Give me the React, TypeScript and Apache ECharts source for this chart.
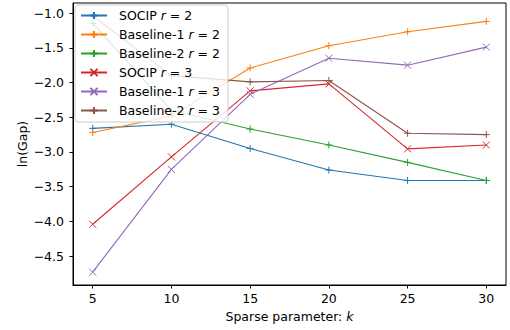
import React, { useEffect, useRef } from "react";
import * as echarts from "echarts";

const kValues = [5, 10, 15, 20, 25, 30];
const xTicks = [5, 10, 15, 20, 25, 30];
const yTicks = [-4.5, -4.0, -3.5, -3.0, -2.5, -2.0, -1.5, -1.0];

const socipR2 = [-2.66, -2.6, -2.95, -3.26, -3.41, -3.41];
const baseline1R2 = [-2.72, -2.48, -1.79, -1.47, -1.27, -1.12];
const baseline2R2 = [-1.15, -2.4, -2.67, -2.9, -3.15, -3.41];
const socipR3 = [-4.04, -3.07, -2.12, -2.02, -2.955, -2.9];
const baseline1R3 = [-4.73, -3.25, -2.17, -1.65, -1.75, -1.49];
const baseline2R3 = [-1.04, -1.9, -1.99, -1.97, -2.73, -2.75];

const seriesNames = [
  "SOCIP r = 2",
  "Baseline-1 r = 2",
  "Baseline-2 r = 2",
  "SOCIP r = 3",
  "Baseline-1 r = 3",
  "Baseline-2 r = 3",
];
const seriesValues = [socipR2, baseline1R2, baseline2R2, socipR3, baseline1R3, baseline2R3];
const colors = ["#1f77b4", "#ff7f0e", "#2ca02c", "#d62728", "#9467bd", "#8c564b"];
const markers = ["plus", "plus", "plus", "x", "x", "plus"];

const PLUS = "path://M5,0L5,10M0,5L10,5";
const CROSS = "path://M0,0L10,10M0,10L10,0";
const FONT = "DejaVu Sans";

export default function App() {
  const ref = useRef<HTMLDivElement>(null);
  useEffect(() => {
    if (!ref.current) return;
    const chart = echarts.init(ref.current, undefined, { renderer: "svg" });
    const fmtY = (v: number) => (v < 0 ? "\u2212" : "") + Math.abs(v).toFixed(1);
    const series = seriesNames.map((name, i) => ({
      name,
      type: "line",
      data: kValues.map((k, j) => [k, seriesValues[i][j]]),
      symbol: markers[i] === "plus" ? PLUS : CROSS,
      symbolSize: 7,
      showSymbol: true,
      lineStyle: { color: colors[i], width: 1.1 },
      itemStyle: { color: colors[i], borderColor: colors[i], borderWidth: 1 },
      emphasis: { disabled: true },
    }));
    chart.setOption({
      animation: false,
      textStyle: { fontFamily: FONT },
      grid: {
        left: 73,
        right: 4,
        top: 3,
        bottom: 45,
        show: true,
        borderColor: "#000",
        borderWidth: 1,
        backgroundColor: "transparent",
      },
      legend: {
        orient: "vertical",
        left: 75,
        top: 5,
        padding: [4, 8, 5, 5],
        itemWidth: 26,
        itemHeight: 9,
        itemGap: 6,
        backgroundColor: "rgba(255,255,255,0.8)",
        borderColor: "#cccccc",
        borderWidth: 1,
        borderRadius: 3,
        data: seriesNames,
        formatter: (name: string) => name.replace(" r = ", " {i|r} = "),
        textStyle: {
          fontFamily: FONT,
          fontSize: 12.5,
          color: "#000",
          padding: [0, 0, 0, 7],
          lineHeight: 13,
          rich: {
            i: { fontFamily: FONT, fontStyle: "italic", fontSize: 12.5, color: "#000" },
          },
        },
      },
      xAxis: {
        type: "value",
        min: 3.75,
        max: 31.25,
        name: "Sparse parameter: {i|k}",
        nameLocation: "middle",
        nameGap: 23,
        nameTextStyle: {
          fontFamily: FONT,
          fontSize: 12.5,
          color: "#000",
          rich: { i: { fontFamily: FONT, fontStyle: "italic", fontSize: 12.5, color: "#000" } },
        },
        axisLine: { show: true, onZero: false, lineStyle: { color: "#000", width: 1 } },
        axisTick: { show: true, length: 3.5, customValues: xTicks, lineStyle: { color: "#000" } },
        axisLabel: {
          customValues: xTicks,
          margin: 7,
          fontFamily: FONT,
          fontSize: 12.5,
          color: "#000",
        },
        splitLine: { show: false },
      },
      yAxis: {
        type: "value",
        min: -4.915,
        max: -0.855,
        name: "ln(Gap)",
        nameLocation: "middle",
        nameRotate: 90,
        nameGap: 44,
        nameMoveOverlap: false,
        nameTextStyle: { fontFamily: FONT, fontSize: 12.5, color: "#000" },
        axisLine: { show: true, onZero: false, lineStyle: { color: "#000", width: 1 } },
        axisTick: { show: true, length: 3.5, customValues: yTicks, lineStyle: { color: "#000" } },
        axisLabel: {
          customValues: yTicks,
          margin: 9,
          fontFamily: FONT,
          fontSize: 12.5,
          color: "#000",
          formatter: fmtY,
        },
        splitLine: { show: false },
      },
      series,
    });
    return () => chart.dispose();
  }, []);
  return <div ref={ref} style={{ width: 510, height: 330, position: "absolute", left: 0, top: 0 }} />;
}
